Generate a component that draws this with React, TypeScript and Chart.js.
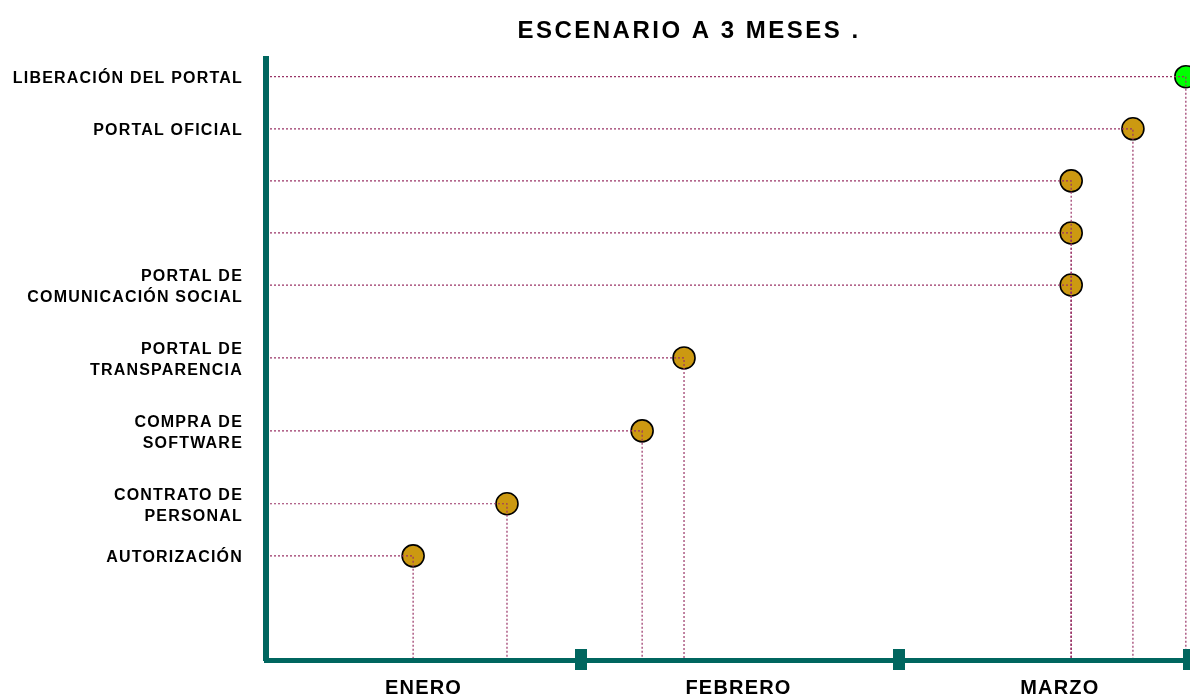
import { useEffect, useRef } from 'react';
import { Chart, registerables } from 'chart.js';

Chart.register(...registerables);

const TITLE = 'ESCENARIO A 3 MESES .';

// Months on the x axis (value unit = one month)
const MONTHS = ['ENERO', 'FEBRERO', 'MARZO'];
const MONTH_CENTERS = [0.5, 1.5, 2.52];
const MONTH_BOUNDS = [1, 2.01, 2.93];
const X_MIN = 0;
const X_MAX = 2.93;

// Milestones (bottom to top)
const TASK_LABELS: (string | string[])[] = [
  'AUTORIZACIÓN',
  ['CONTRATO DE', 'PERSONAL'],
  ['COMPRA DE', 'SOFTWARE'],
  ['PORTAL DE', 'TRANSPARENCIA'],
  ['PORTAL DE', 'COMUNICACIÓN SOCIAL'],
  '',
  '',
  'PORTAL OFICIAL',
  'LIBERACIÓN DEL PORTAL',
];
const TASK_X = [0.467, 0.765, 1.194, 1.327, 2.556, 2.556, 2.556, 2.752, 2.92];
const TASK_Y = [2.0, 3.0, 4.4, 5.8, 7.2, 8.2, 9.2, 10.2, 11.2];
const TASK_DONE = [false, false, false, false, false, false, false, false, true];
const Y_MIN = 0;
const Y_MAX = 11.54;

const AXIS = '#00665F';
const GUIDE = '#993366';
const GOLD = '#CC9911';
const GREEN = '#00FF00';
const FONT = '"Liberation Sans", Arial, Helvetica, sans-serif';

export default function App() {
  const ref = useRef<HTMLCanvasElement>(null);

  useEffect(() => {
    const canvas = ref.current;
    if (!canvas) return;
    Chart.defaults.font.family = FONT;

    const guideSets: any[] = TASK_X.map((x, i) => ({
      type: 'line',
      data: [
        { x: X_MIN, y: TASK_Y[i] },
        { x, y: TASK_Y[i] },
        { x, y: Y_MIN },
      ],
      showLine: true,
      borderColor: GUIDE,
      borderWidth: 1.2,
      borderDash: [2, 2],
      pointRadius: 0,
      fill: false,
      tension: 0,
      order: 1,
    }));

    const decor = {
      id: 'decor',
      beforeDraw(chart: any) {
        chart.ctx.letterSpacing = '1.2px';
      },
      afterDraw(chart: any) {
        const { ctx, chartArea } = chart;
        const xs = chart.scales.x;
        ctx.save();
        ctx.fillStyle = AXIS;
        MONTH_BOUNDS.forEach((v) => {
          const px = Math.round(xs.getPixelForValue(v));
          ctx.fillRect(px - 6, chartArea.bottom - 11, 12, 21);
        });
        ctx.letterSpacing = '2.5px';
        ctx.font = `bold 24px ${FONT}`;
        ctx.fillStyle = '#000';
        ctx.textAlign = 'center';
        ctx.textBaseline = 'alphabetic';
        ctx.fillText(TITLE, 689, 38);
        ctx.restore();
      },
    };

    const chart = new Chart(canvas, {
      type: 'scatter',
      data: {
        datasets: [
          {
            data: TASK_X.map((x, i) => ({ x, y: TASK_Y[i] })),
            pointRadius: 11,
            pointHoverRadius: 11,
            pointBackgroundColor: TASK_DONE.map((d) => (d ? GREEN : GOLD)),
            pointBorderColor: '#000',
            pointBorderWidth: 1.6,
            order: 2,
            clip: false,
          } as any,
          ...guideSets,
        ],
      },
      options: {
        responsive: false,
        animation: false,
        devicePixelRatio: 1,
        layout: { autoPadding: false, padding: { top: 59, left: 0, right: 1, bottom: 0 } },
        plugins: {
          legend: { display: false },
          tooltip: { enabled: false },
          title: { display: false },
        },
        scales: {
          x: {
            type: 'linear',
            min: X_MIN,
            max: X_MAX,
            grid: { display: false, drawTicks: false },
            border: { color: AXIS, width: 5, z: 1 },
            ticks: {
              autoSkip: false,
              color: '#000',
              font: { size: 20, weight: 'bold' },
              padding: 16,
              callback: (_v: any, i: number) => MONTHS[i],
            },
            afterBuildTicks: (s: any) => {
              s.ticks = MONTH_CENTERS.map((v) => ({ value: v }));
            },
            afterFit: (s: any) => {
              s.height = 38;
            },
          },
          y: {
            type: 'linear',
            min: Y_MIN,
            max: Y_MAX,
            grid: { display: false, drawTicks: false },
            border: { color: AXIS, width: 6, z: 1 },
            ticks: {
              autoSkip: false,
              color: '#000',
              font: { size: 16, weight: 'bold', lineHeight: 1.3 },
              padding: 23,
              labelOffset: 2,
              callback: (_v: any, i: number) => TASK_LABELS[i],
            },
            afterBuildTicks: (s: any) => {
              s.ticks = TASK_Y.map((v) => ({ value: v }));
            },
            afterFit: (s: any) => {
              s.width = 266;
            },
          },
        },
      } as any,
      plugins: [decor],
    });

    return () => chart.destroy();
  }, []);

  return (
    <div style={{ position: 'fixed', left: 0, top: 0, width: 1190, height: 698, overflow: 'hidden', background: '#fff' }}>
      <canvas ref={ref} width={1190} height={698} style={{ display: 'block' }} />
    </div>
  );
}
